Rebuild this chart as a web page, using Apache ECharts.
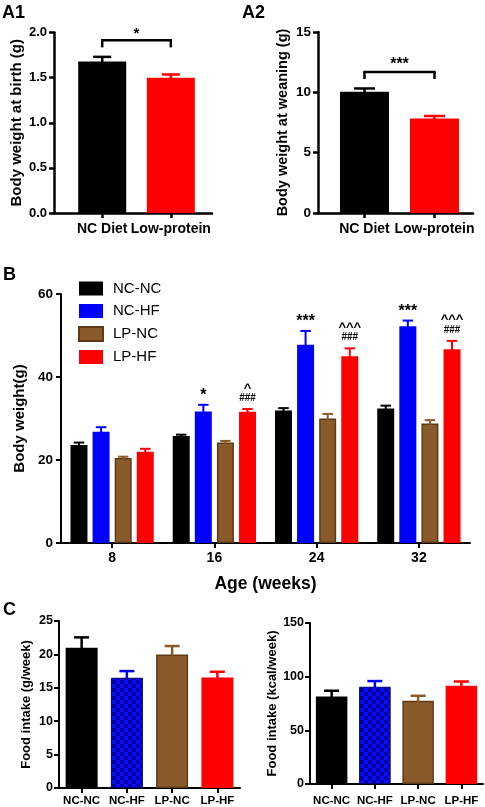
<!DOCTYPE html>
<html><head><meta charset="utf-8">
<script src="https://cdn.jsdelivr.net/npm/echarts@6/dist/echarts.min.js"></script>
<style>html,body{margin:0;padding:0;background:#fff}#c{width:485px;height:807px}</style>
</head><body><div id="c"></div>
<script>
// ---------------- data ----------------
const dietGroups = ['NC Diet', 'Low-protein'];
const birthWeight = [1.68, 1.50];
const birthWeightErr = [0.05, 0.035];
const birthSig = '*';
const weaningWeight = [10.05, 7.84];
const weaningWeightErr = [0.27, 0.2];
const weaningSig = '***';
const ticksA1 = [0, 0.5, 1.0, 1.5, 2.0];
const ticksA2 = [0, 5, 10, 15];

const ageWeeks = ['8', '16', '24', '32'];
const groups = ['NC-NC', 'NC-HF', 'LP-NC', 'LP-HF'];
const bwNCNC = [23.6, 25.8, 31.9, 32.4];
const bwNCNCErr = [0.6, 0.3, 0.6, 0.7];
const bwNCHF = [26.8, 31.7, 47.8, 52.2];
const bwNCHFErr = [1.1, 1.6, 3.3, 1.4];
const bwLPNC = [20.5, 24.2, 30.0, 28.8];
const bwLPNCErr = [0.3, 0.4, 1.1, 0.8];
const bwLPHF = [22.0, 31.6, 45.0, 46.7];
const bwLPHFErr = [0.7, 0.7, 1.9, 2.0];
const sigNCHF = ['', '*', '***', '***'];
const sigLPHFHash = ['', '###', '###', '###'];
const sigLPHFCaret = ['', '^', '^^^', '^^^'];
const ticksB = [0, 20, 40, 60];

const foodGram = [21.0, 16.5, 20.0, 16.55];
const foodGramErr = [1.55, 1.0, 1.25, 0.85];
const foodKcal = [81.6, 90.6, 77.6, 91.5];
const foodKcalErr = [5.3, 5.3, 4.6, 4.0];
const ticksC1 = [0, 5, 10, 15, 20, 25];
const ticksC2 = [0, 50, 100, 150];

// ---------------- styles ----------------
const FF = 'Liberation Sans, Arial, sans-serif';
const COL = { black: '#000000', blue: '#0000ff', brown: '#8b5a2b', red: '#ff0000' };
const groupColors = [COL.black, COL.blue, COL.brown, COL.red];
const brownBorder = '#5e3a18';

function checker() {
  const c = document.createElement('canvas');
  c.width = 8; c.height = 8;
  const g = c.getContext('2d');
  g.fillStyle = '#0a0aff'; g.fillRect(0, 0, 8, 8);
  g.fillStyle = '#00009c'; g.fillRect(0, 0, 4, 4); g.fillRect(4, 4, 4, 4);
  return c;
}
const checkerPattern = { image: checker(), repeat: 'repeat' };

function styleFor(i, patterned) {
  if (i === 2) return { color: COL.brown, borderColor: brownBorder, borderWidth: 1.5 };
  if (i === 1 && patterned) return { color: checkerPattern, borderColor: '#00007a', borderWidth: 1 };
  return { color: groupColors[i] };
}

function yAxisCfg(gi, ticks, dec, name, nameSize, nameGap, labelSize, margin, lw) {
  return {
    gridIndex: gi, type: 'value', min: ticks[0], max: ticks[ticks.length - 1],
    interval: ticks[1] - ticks[0],
    name: name, nameLocation: 'middle', nameGap: nameGap, nameRotate: 90,
    nameTextStyle: { fontFamily: FF, fontWeight: 'bold', fontSize: nameSize, color: '#000' },
    axisLine: { show: true, onZero: false, lineStyle: { color: '#000', width: lw } },
    axisTick: { show: true, inside: false, length: 5, lineStyle: { color: '#000', width: lw } },
    splitLine: { show: false },
    axisLabel: { fontFamily: FF, fontWeight: 'bold', fontSize: labelSize, color: '#000', margin: margin,
      formatter: v => Number(v).toFixed(dec) }
  };
}
function xCatCfg(gi, cats, labelSize, margin, lw, name) {
  const o = {
    gridIndex: gi, type: 'category', data: cats,
    axisLine: { show: true, onZero: false, lineStyle: { color: '#000', width: lw } },
    axisTick: { show: true, alignWithLabel: true, length: 5, lineStyle: { color: '#000', width: lw } },
    axisLabel: { fontFamily: FF, fontWeight: 'bold', fontSize: labelSize, color: '#000', margin: margin, interval: 0 },
    splitLine: { show: false }
  };
  if (name) {
    o.name = name; o.nameLocation = 'middle'; o.nameGap = 32;
    o.nameTextStyle = { fontFamily: FF, fontWeight: 'bold', fontSize: 17.5, color: '#000' };
  }
  return o;
}
function xValCfg(gi, cats, min, max, labelSize, margin, lw) {
  const vals = cats.map((c, i) => i);
  return {
    gridIndex: gi, type: 'value', min: min, max: max,
    axisLine: { show: true, onZero: false, lineStyle: { color: '#000', width: lw } },
    axisTick: { show: true, customValues: vals, length: 5, lineStyle: { color: '#000', width: lw } },
    axisLabel: { customValues: vals, fontFamily: FF, fontWeight: 'bold', fontSize: labelSize, color: '#000', margin: margin,
      formatter: v => (Number.isInteger(v) && cats[v] !== undefined ? cats[v] : '') },
    splitLine: { show: false }
  };
}

// error bar renderer; offset in px from category centre; optional annotation texts
function errRender(color, offset, capW, lw, notes) {
  return function (params, api) {
    const x = api.value(0), v = api.value(1), e = api.value(2);
    const p0 = api.coord([x, v]);
    const p1 = api.coord([x, v + e]);
    const cx = p0[0] + offset;
    const kids = [
      { type: 'line', shape: { x1: cx, y1: p0[1] + 1, x2: cx, y2: p1[1] }, style: { stroke: color, lineWidth: lw } },
      { type: 'line', shape: { x1: cx - capW / 2, y1: p1[1], x2: cx + capW / 2, y2: p1[1] }, style: { stroke: color, lineWidth: lw } }
    ];
    (notes || []).forEach(n => {
      const t = n.texts[params.dataIndex];
      if (t) kids.push({ type: 'text', x: cx, y: p1[1] - n.dy,
        style: { text: t, fill: '#000', fontFamily: FF, fontWeight: 'bold', fontSize: n.size, align: 'center', verticalAlign: 'middle' } });
    });
    return { type: 'group', children: kids };
  };
}
function errSeries(xi, vals, errs, color, offset, capW, lw, notes) {
  return {
    type: 'custom', xAxisIndex: xi, yAxisIndex: xi, z: 5, silent: true,
    data: vals.map((v, i) => [i, v, errs[i]]),
    renderItem: errRender(color, offset, capW, lw, notes)
  };
}
// significance bracket between two bars
function bracketSeries(xi, vals, errs, sig, capGap, tickLen, starSize) {
  const top = Math.max(...vals.map((v, i) => v + errs[i]));
  return {
    type: 'custom', xAxisIndex: xi, yAxisIndex: xi, z: 5, silent: true,
    data: [[0.5, top]],
    renderItem: function (params, api) {
      const yv = api.value(1);
      const pa = api.coord([0, yv]);
      const pb = api.coord([1, yv]);
      const y = pa[1] - capGap;
      const st = { stroke: '#000', lineWidth: 2.5 };
      return { type: 'group', children: [
        { type: 'line', shape: { x1: pa[0], y1: y + tickLen, x2: pa[0], y2: y }, style: st },
        { type: 'line', shape: { x1: pa[0] - 1.2, y1: y, x2: pb[0] + 1.2, y2: y }, style: st },
        { type: 'line', shape: { x1: pb[0], y1: y, x2: pb[0], y2: y + tickLen }, style: st },
        { type: 'text', x: (pa[0] + pb[0]) / 2, y: y - 7,
          style: { text: sig, fill: '#000', fontFamily: FF, fontWeight: 'bold', fontSize: starSize, align: 'center', verticalAlign: 'middle' } }
      ] };
    }
  };
}

const bW = 17, bGap = 5.1;
const bOff = i => (i - 1.5) * (bW + bGap);
const bwVals = [bwNCNC, bwNCHF, bwLPNC, bwLPHF];
const bwErrs = [bwNCNCErr, bwNCHFErr, bwLPNCErr, bwLPHFErr];

const series = [];
// A1
series.push({ type: 'bar', xAxisIndex: 0, yAxisIndex: 0, barWidth: 48,
  data: birthWeight.map((v, i) => ({ value: [i, v], itemStyle: { color: i === 0 ? COL.black : COL.red } })) });
series.push({ type: 'custom', xAxisIndex: 0, yAxisIndex: 0, z: 5, silent: true,
  data: birthWeight.map((v, i) => [i, v, birthWeightErr[i]]),
  renderItem: (p, api) => errRender(p.dataIndex === 0 ? COL.black : COL.red, 0, 18, 2.5)(p, api) });
series.push(bracketSeries(0, birthWeight, birthWeightErr, birthSig, 16.5, 7, 15));
// A2
series.push({ type: 'bar', xAxisIndex: 1, yAxisIndex: 1, barWidth: 49,
  data: weaningWeight.map((v, i) => ({ value: [i, v], itemStyle: { color: i === 0 ? COL.black : COL.red } })) });
series.push({ type: 'custom', xAxisIndex: 1, yAxisIndex: 1, z: 5, silent: true,
  data: weaningWeight.map((v, i) => [i, v, weaningWeightErr[i]]),
  renderItem: (p, api) => errRender(p.dataIndex === 0 ? COL.black : COL.red, 0, 21, 2.5)(p, api) });
series.push(bracketSeries(1, weaningWeight, weaningWeightErr, weaningSig, 16.5, 7, 16));
// B
groups.forEach((g, i) => {
  series.push({ type: 'bar', name: g, xAxisIndex: 2, yAxisIndex: 2, barWidth: bW, barGap: '30%',
    itemStyle: styleFor(i, false), data: bwVals[i] });
});
groups.forEach((g, i) => {
  let notes = null;
  if (i === 1) notes = [{ texts: sigNCHF, dy: 9, size: 16 }];
  if (i === 3) notes = [{ texts: sigLPHFHash, dy: 11, size: 10 }, { texts: sigLPHFCaret, dy: 21, size: 13 }];
  series.push(errSeries(2, bwVals[i], bwErrs[i], groupColors[i], bOff(i), 10.5, 2, notes));
});
// C1
series.push({ type: 'bar', xAxisIndex: 3, yAxisIndex: 3, barWidth: 32,
  data: foodGram.map((v, i) => ({ value: v, itemStyle: styleFor(i, true) })) });
series.push({ type: 'custom', xAxisIndex: 3, yAxisIndex: 3, z: 5, silent: true,
  data: foodGram.map((v, i) => [i, v, foodGramErr[i]]),
  renderItem: (p, api) => errRender(groupColors[p.dataIndex], 0, 15, 2.5)(p, api) });
// C2
series.push({ type: 'bar', xAxisIndex: 4, yAxisIndex: 4, barWidth: 31.5,
  data: foodKcal.map((v, i) => ({ value: v, itemStyle: styleFor(i, true) })) });
series.push({ type: 'custom', xAxisIndex: 4, yAxisIndex: 4, z: 5, silent: true,
  data: foodKcal.map((v, i) => [i, v, foodKcalErr[i]]),
  renderItem: (p, api) => errRender(groupColors[p.dataIndex], 0, 15, 2.5)(p, api) });

const titleStyle = { fontFamily: FF, fontWeight: 'bold', fontSize: 18, color: '#000' };
const option = {
  animation: false,
  backgroundColor: '#fff',
  title: [
    { text: 'A1', left: 2, top: 4.5, padding: 0, textStyle: titleStyle },
    { text: 'A2', left: 242, top: 4.5, padding: 0, textStyle: titleStyle },
    { text: 'B', left: 3, top: 266.5, padding: 0, textStyle: titleStyle },
    { text: 'C', left: 3, top: 601.5, padding: 0, textStyle: titleStyle }
  ],
  legend: {
    data: groups, orient: 'vertical', left: 78, top: 281, padding: 0,
    itemWidth: 24, itemHeight: 14, itemGap: 7.5, icon: 'rect', selectedMode: false,
    textStyle: { fontFamily: FF, fontSize: 15, color: '#000', padding: [0, 0, 0, 5] }
  },
  grid: [
    { left: 54, top: 32.5, width: 158, height: 180.5 },
    { left: 318, top: 32, width: 155, height: 181 },
    { left: 61, top: 294, width: 409, height: 249 },
    { left: 59, top: 621, width: 181, height: 167 },
    { left: 310, top: 623, width: 173, height: 161 }
  ],
  xAxis: [
    xValCfg(0, dietGroups, -0.703, 1.60, 14, 9, 2.5),
    xValCfg(1, dietGroups, -0.664, 1.55, 14, 9, 2.5),
    xCatCfg(2, ageWeeks, 14, 8, 2, 'Age (weeks)'),
    xCatCfg(3, groups, 11.5, 7, 2, null),
    xCatCfg(4, groups, 11.5, 11, 2, null)
  ],
  yAxis: [
    yAxisCfg(0, ticksA1, 1, 'Body weight at birth (g)', 15, 30, 13, 7, 2.5),
    yAxisCfg(1, ticksA2, 0, 'Body weight at weaning (g)', 14.5, 28, 13.5, 7, 2.5),
    yAxisCfg(2, ticksB, 0, 'Body weight(g)', 15, 29, 13.5, 8, 2),
    yAxisCfg(3, ticksC1, 0, 'Food intake (g/week)', 13, 26, 12.5, 6, 2),
    yAxisCfg(4, ticksC2, 0, 'Food intake (kcal/week)', 13, 31, 12.5, 6, 2)
  ],
  series: series
};
const chart = echarts.init(document.getElementById('c'), null, { renderer: 'canvas' });
chart.setOption(option);
</script></body></html>
